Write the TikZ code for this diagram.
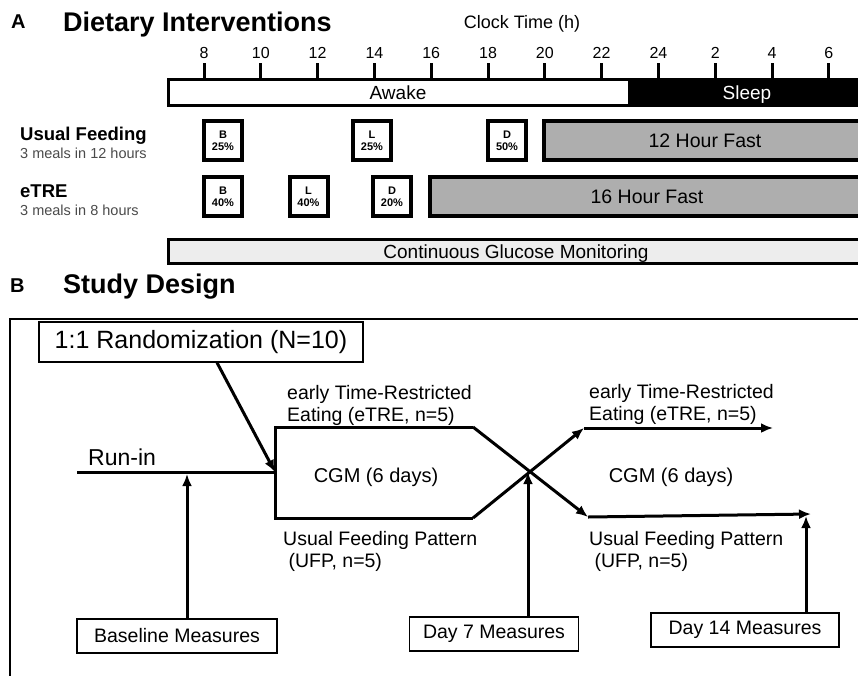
\documentclass[tikz,border=0pt]{standalone}
\usepackage{fontspec}
\setmainfont{Liberation Sans}
\usetikzlibrary{arrows.meta}
\definecolor{fastgray}{HTML}{AEAEAE}
\definecolor{subgray}{HTML}{4A4A4A}
\definecolor{cgmfill}{HTML}{EDEDED}

\begin{document}
\begin{tikzpicture}[x=1pt,y=-1pt,
  title/.style={font=\bfseries\fontsize{27}{30}\selectfont, anchor=base west, inner sep=0},
  panel/.style={font=\bfseries\fontsize{20}{22}\selectfont, anchor=base west, inner sep=0},
  hour/.style={font=\fontsize{16}{18}\selectfont, anchor=base, inner sep=0},
  meal/.style={draw, line width=4, minimum width=38, minimum height=39, inner sep=0,
    align=center, font=\bfseries\fontsize{11}{12}\selectfont},
  fast/.style={draw, line width=4, fill=fastgray, minimum height=39, inner sep=0,
    font=\fontsize{19.5}{22}\selectfont},
  big/.style={font=\fontsize{19}{22}\selectfont, inner sep=0},
  lbl/.style={font=\fontsize{19.5}{22}\selectfont, inner sep=0, align=left, anchor=north west},
  measure/.style={draw, line width=1.3, minimum height=34, inner sep=0,
    font=\fontsize{19.5}{22}\selectfont},
  flow/.style={line width=3},
  tip/.style={line width=3, -{Latex[length=12, width=10]}}
]
  \useasboundingbox (0,0) rectangle (858,675);

  % Panel A: clock axis
  \node[panel] (labA) at (11,28) {A};
  \node[title] (titA) at (63,31) {Dietary Interventions};
  \node[big, anchor=base, font=\fontsize{18}{20}\selectfont] (clock) at (522,28) {Clock Time (h)};
  \foreach \h [count=\i from 0] in {8,10,12,14,16,18,20,22,24,2,4,6} {
    \draw[line width=3] (204+56.8*\i,63) -- (204+56.8*\i,79);
    \node[hour] (t\i) at (204+56.8*\i,58) {\h};
  }

  % awake / sleep bar
  \fill[black] (629,78) rectangle (870,107);
  \draw[line width=3] (168.5,79.5) rectangle (629,105.5);
  \node[big, anchor=base] (awake) at (398,99.5) {Awake};
  \node[big, anchor=base, text=white] (sleep) at (747,99) {Sleep};

  % Usual feeding row
  \node[font=\bfseries\fontsize{18.5}{20}\selectfont, anchor=base west, inner sep=0] (uf) at (20,140) {Usual Feeding};
  \node[font=\fontsize{14.5}{16}\selectfont, text=subgray, anchor=base west, inner sep=0] (ufsub) at (20,158) {3 meals in 12 hours};
  \node[meal] (ufB) at (223,140.5) {B\\25\%};
  \node[meal] (ufL) at (372,140.5) {L\\25\%};
  \node[meal] (ufD) at (507,140.5) {D\\50\%};
  \node[fast, minimum width=322] (ufFast) at (705,140.5) {12 Hour Fast};

  % eTRE row
  \node[font=\bfseries\fontsize{18.5}{20}\selectfont, anchor=base west, inner sep=0] (tre) at (20,197.5) {eTRE};
  \node[font=\fontsize{14.5}{16}\selectfont, text=subgray, anchor=base west, inner sep=0] (tresub) at (20,215) {3 meals in 8 hours};
  \node[meal] (treB) at (223,196.5) {B\\40\%};
  \node[meal] (treL) at (308.5,196.5) {L\\40\%};
  \node[meal] (treD) at (392,196.5) {D\\20\%};
  \node[fast, minimum width=434] (treFast) at (647,196.5) {16 Hour Fast};

  % glucose monitoring bar
  \draw[line width=3, fill=cgmfill] (168.5,239.5) rectangle (865,263.5);
  \node[big, anchor=base] (cgmA) at (516,258) {Continuous Glucose Monitoring};

  % Panel B: study design
  \node[panel] (labB) at (10,292) {B};
  \node[title] (titB) at (63,293) {Study Design};
  \draw[line width=2] (10,680) -- (10,319) -- (870,319);

  \node[draw, line width=1.2, minimum width=324, minimum height=40, inner sep=0,
    font=\fontsize{25}{28}\selectfont] (rand) at (201,342) {1:1 Randomization (N=10)};
  \node[font=\fontsize{23}{26}\selectfont, anchor=base west, inner sep=0] (runin) at (88,465) {Run-in};

  \coordinate (runS) at (77,472);
  \coordinate (split) at (275,472);
  \coordinate (topL) at (275,427);
  \coordinate (botL) at (275,518);
  \coordinate (topK) at (473,427);
  \coordinate (botK) at (473,518);
  \coordinate (topA) at (584,428);
  \coordinate (botA) at (588,517);
  \coordinate (topE) at (773,428);
  \coordinate (botE) at (811,514);

  \draw[flow] (runS) -- (split);
  \draw[tip] ([xshift=16]rand.south) -- (split);
  \draw[flow] (topK) -- (topL) -- (botL) -- (botK);
  \draw[tip] (topK) -- (botA);
  \draw[tip] (botK) -- (topA);
  \draw[tip] (topA) -- (topE);
  \draw[tip] (botA) -- (botE);

  % group labels
  \node[lbl] (eL) at (287,385) {early Time-Restricted\\Eating (eTRE, n=5)};
  \node[lbl] (eR) at (589,384) {early Time-Restricted\\Eating (eTRE, n=5)};
  \node[big, anchor=base, font=\fontsize{20}{22}\selectfont] (cgmL) at (376,482) {CGM (6 days)};
  \node[big, anchor=base, font=\fontsize{20}{22}\selectfont] (cgmR) at (671,482) {CGM (6 days)};
  \node[lbl] (uL) at (283,531) {Usual Feeding Pattern\\~(UFP, n=5)};
  \node[lbl] (uR) at (589,531) {Usual Feeding Pattern\\~(UFP, n=5)};

  % measures
  \node[measure, minimum width=200] (base) at (177,636) {Baseline Measures};
  \node[measure, minimum width=169] (day7) at (494,634) {Day 7 Measures};
  \node[measure, minimum width=188] (day14) at (745,630) {Day 14 Measures};
  \draw[tip] (base.north -| 187,0) -- (187,474);
  \draw[tip] (day7.north -| 528,0) -- (528,472);
  \draw[tip] (day14.north -| 806,0) -- (806,516);
\end{tikzpicture}
\end{document}
